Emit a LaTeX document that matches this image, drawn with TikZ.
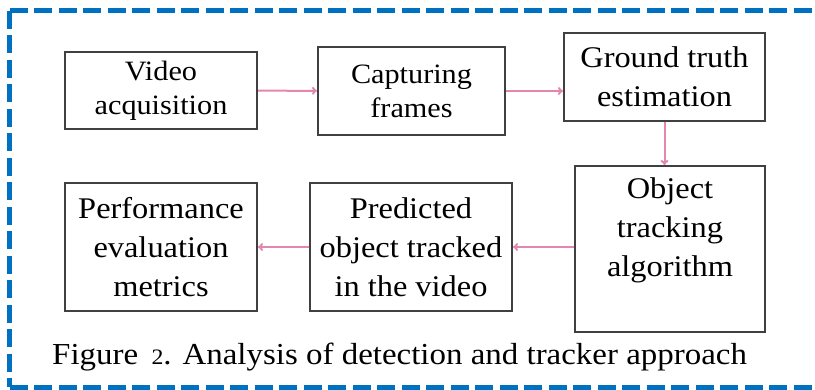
\documentclass[tikz,border=0pt]{standalone}
\usepackage{fontspec}
\setmainfont[FakeStretch=1.08]{Liberation Serif}
\usetikzlibrary{arrows.meta}
\definecolor{frameblue}{RGB}{0,112,192}
\definecolor{flowpink}{RGB}{228,135,175}
\definecolor{boxgrey}{RGB}{64,64,64}
\tikzset{
    procbox/.style={
            draw=boxgrey,
            line width=2pt,
            align=center,
            inner sep=0pt % size set by minimum width/height
        }
}
\tikzset{
    flow/.style={
            draw=flowpink,
            line width=2pt,
            -{To[length=5pt,width=8pt]}
        }
}
\tikzset{
    outerframe/.style={
            draw=frameblue,
            line width=5pt,
            dash pattern=on 18pt off 6.5pt
        }
}
\newcommand{\rowtop}{\fontsize{28}{34}\selectfont}
\newcommand{\rowbot}{\fontsize{30}{39}\selectfont}

\begin{document}
\begin{tikzpicture}[x=1pt, y=-1pt, font=\rowbot]
    \path[use as bounding box] (0,0) rectangle (815,390);
    % outer frame, open on the right
    \coordinate (ftr) at (812,11);
    \coordinate (ftl) at (9.7,11);
    \coordinate (fbl) at (9.7,387.5);
    \coordinate (fbr) at (812,387.5);
    \draw[outerframe] (ftl) -- (ftr);
    \draw[outerframe] (ftl) -- (fbl);
    \draw[outerframe] (fbl) -- (fbr);
    %
    \node[procbox, font=\rowtop, minimum width=192, minimum height=77] (video) at (161,90.5) {Video\\acquisition};
    \node[procbox, font=\rowtop, minimum width=187, minimum height=88] (capture) at (411.5,91) {Capturing\\frames};
    \node[procbox, minimum width=201, minimum height=88] (truth) at (664.5,77) {Ground truth\\estimation};
    \node[procbox, minimum width=190, minimum height=166] (track) at (670,249) {};
    \node[anchor=north, align=center, inner sep=0pt] (tracktext) at ([yshift=-12pt]track.north) {Object\\tracking\\algorithm};
    \node[procbox, minimum width=202, minimum height=128] (predict) at (411,247) {Predicted\\object tracked\\in the video};
    \node[procbox, minimum width=192, minimum height=128] (perf) at (161,247) {Performance\\evaluation\\metrics};
    %
    \draw[flow] (video) -- (capture);
    \draw[flow] (capture.east) -- (capture.east -| truth.west);
    \draw[flow] (truth.south) -- (truth.south |- track.north);
    \draw[flow] (track.west |- predict.east) -- (predict.east);
    \draw[flow] (predict) -- (perf);
    %
    \node[anchor=base west, inner sep=0pt, font=\fontsize{30.5}{36}\selectfont] (caption) at (52,365) {Figure\, {\fontsize{22}{24}\selectfont 2}. Analysis of detection and tracker approach};
\end{tikzpicture}
\end{document}
